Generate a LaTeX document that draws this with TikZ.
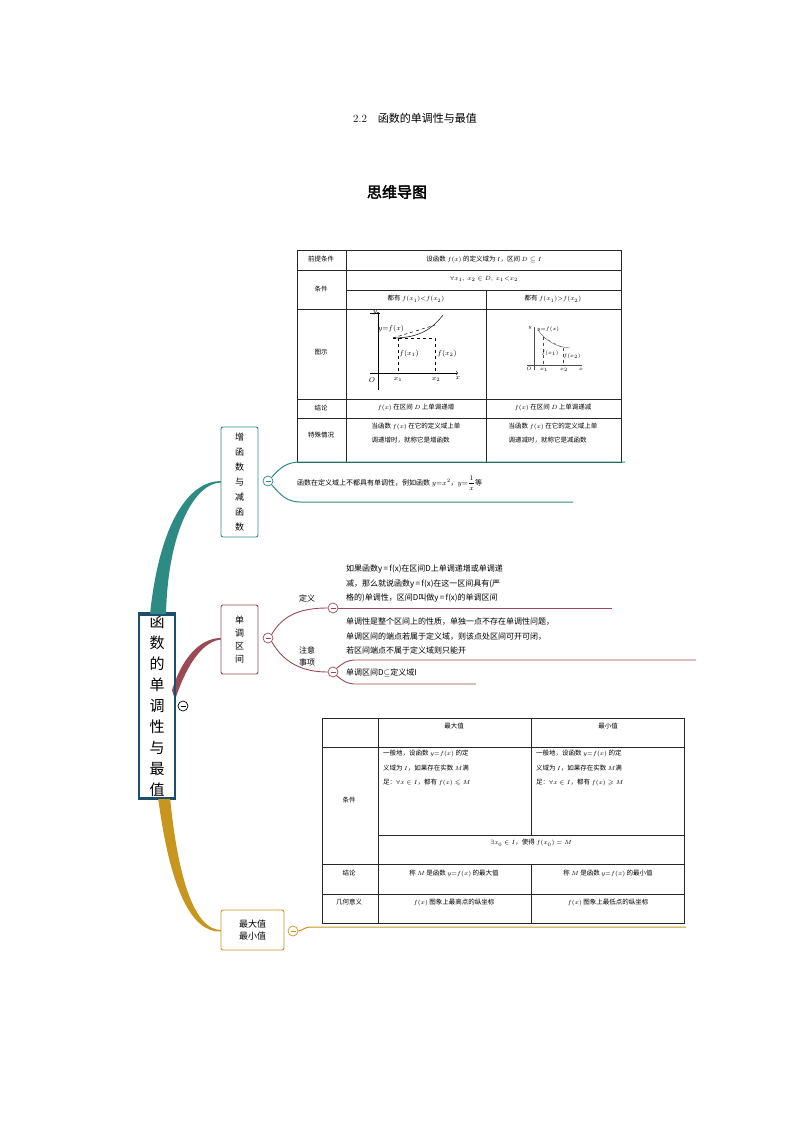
\documentclass[tikz,border=0pt]{standalone}
\usepackage{amssymb}
\usepackage{fontspec}
\newfontfamily\cjk{Noto Sans CJK SC}
\newfontfamily\cjkb{Noto Sans CJK SC}[FakeBold=2.5]
\usetikzlibrary{calc}
\definecolor{teal1}{HTML}{2E8B84}
\definecolor{red1}{HTML}{9B4A55}
\definecolor{gold1}{HTML}{C8961E}
\definecolor{navy}{HTML}{1F4E6B}
\tikzset{
 tb/.style={font=\cjk\fontsize{6.5}{8}\selectfont,inner sep=0pt},
 vbox/.style={draw,rounded corners=2pt,line width=0.9pt,fill=white,align=center,font=\cjk\fontsize{9}{13}\selectfont,inner sep=2pt},
 col/.style={circle,draw,line width=0.7pt,fill=white,minimum size=10pt,inner sep=0pt,path picture={\draw[line width=0.8pt] ($(path picture bounding box.center)+(-2.5pt,0)$)--++(5pt,0);}},
 txt/.style={font=\cjk\fontsize{8}{14.5}\selectfont,anchor=west,align=left,inner sep=0pt},
 grid/.style={line width=0.6pt,draw=black!85}
}
\begin{document}
\begin{tikzpicture}[x=1pt,y=-1pt]
\useasboundingbox (0,0) rectangle (794,1123);
\node (title) at (415,118) {\fontsize{11}{13}\selectfont 2.2\quad{\cjk 函数的单调性与最值}};
\node (sub) at (397,192) {\cjkb\fontsize{15}{17}\selectfont 思维导图};

% top table
\draw[grid] (297,250) rectangle (621,462);
\foreach \y in {270,309,399,418} \draw[grid] (297,\y)--(621,\y);
\draw[grid] (346,290)--(621,290);
\draw[grid] (346,250)--(346,462);
\draw[grid] (486,290)--(486,462);
\node[tb] (t1) at (321,259) {前提条件};
\node[tb] (t2) at (484,259) {设函数 $f(x)$ 的定义域为 $I$，区间 $D\subseteq I$};
\node[tb] (t3) at (321,289) {条件};
\node[tb] (t4) at (484,279) {$\forall x_1,\ x_2\in D,\ x_1{<}x_2$};
\node[tb] (t5) at (416,299) {都有 $f(x_1){<}f(x_2)$};
\node[tb] (t6) at (553,299) {都有 $f(x_1){>}f(x_2)$};
\node[tb] (t7) at (321,352) {图示};
\node[tb] (t8) at (321,408) {结论};
\node[tb] (t9) at (416,408) {$f(x)$ 在区间 $D$ 上单调递增};
\node[tb] (t10) at (553,408) {$f(x)$ 在区间 $D$ 上单调递减};
\node[tb] (t11) at (321,435) {特殊情况};
\node[tb,align=left,font=\cjk\fontsize{6.5}{14}\selectfont] (t12) at (416,433) {当函数 $f(x)$ 在它的定义域上单\\调递增时，就称它是增函数};
\node[tb,align=left,font=\cjk\fontsize{6.5}{14}\selectfont] (t13) at (553,433) {当函数 $f(x)$ 在它的定义域上单\\调递减时，就称它是减函数};
% left graph
\begin{scope}[line width=0.5pt]
\draw (370,313)--(380,313);
\draw[->] (378,390)--(378,312);
\draw[->] (370,373)--(458,373);
\draw (393,338) .. controls (415,338) and (430,332) .. (443,315);
\draw[dashed] (393,338)--(435,325);
\draw[dashed] (393,338)--(435,338)--(435,373);
\draw[dashed] (398,338)--(398,373);
\node[font=\fontsize{7}{8}\selectfont,inner sep=1pt] at (375,313) {$y$};
\node[font=\fontsize{7}{8}\selectfont,inner sep=1pt] at (391,329) {$y{=}f(x)$};
\node[font=\fontsize{7}{8}\selectfont,inner sep=1pt] at (409,354) {$f(x_1)$};
\node[font=\fontsize{7}{8}\selectfont,inner sep=1pt] at (447,354) {$f(x_2)$};
\node[font=\fontsize{7}{8}\selectfont,inner sep=1pt] at (372,380) {$O$};
\node[font=\fontsize{7}{8}\selectfont,inner sep=1pt] at (398,379) {$x_1$};
\node[font=\fontsize{7}{8}\selectfont,inner sep=1pt] at (436,379) {$x_2$};
\node[font=\fontsize{7}{8}\selectfont,inner sep=1pt] at (458,378) {$x$};
\end{scope}
% right graph
\begin{scope}[line width=0.35pt,draw=black!70]
\draw (534,370)--(534,327);
\draw (527,365)--(582,365);
\draw (538,330) .. controls (545,340) and (555,347) .. (570,348);
\draw[dashed] (543,337)--(563,348);
\draw[dashed] (543,337)--(543,365);
\draw[dashed] (563,348)--(563,365);
\node[font=\fontsize{4}{5}\selectfont,inner sep=0.5pt] at (548,329) {$y{=}f(x)$};
\node[font=\fontsize{4}{5}\selectfont,inner sep=0.5pt] at (550,353) {$f(x_1)$};
\node[font=\fontsize{4}{5}\selectfont,inner sep=0.5pt] at (572,356) {$f(x_2)$};
\node[font=\fontsize{4}{5}\selectfont,inner sep=0.5pt] at (529,369) {$O$};
\node[font=\fontsize{4}{5}\selectfont,inner sep=0.5pt] at (544,370) {$x_1$};
\node[font=\fontsize{4}{5}\selectfont,inner sep=0.5pt] at (564,370) {$x_2$};
\node[font=\fontsize{4}{5}\selectfont,inner sep=0.5pt] at (581,369) {$x$};
\node[font=\fontsize{4}{5}\selectfont,inner sep=0.5pt] at (530,328) {$y$};
\end{scope}

% bottom table
\draw[grid] (322,718) rectangle (684,923);
\foreach \y in {747,864,894} \draw[grid] (322,\y)--(684,\y);
\draw[grid] (378,835)--(684,835);
\draw[grid] (378,718)--(378,923);
\draw[grid] (531,718)--(531,835);
\draw[grid] (531,864)--(531,923);
\node[tb] (b1) at (454,726) {最大值};
\node[tb] (b2) at (608,726) {最小值};
\node[tb] (b3) at (349,800) {条件};
\node[tb,anchor=north west,align=left,font=\cjk\fontsize{6.5}{14.5}\selectfont] (b4) at (383,750) {一般地，设函数 $y{=}f(x)$ 的定\\[0pt]义域为 $I$，如果存在实数 $M$满\\足：$\forall x\in I$，都有 $f(x)\leqslant M$};
\node[tb,anchor=north west,align=left,font=\cjk\fontsize{6.5}{14.5}\selectfont] (b5) at (536,750) {一般地，设函数 $y{=}f(x)$ 的定\\[0pt]义域为 $I$，如果存在实数 $M$满\\足：$\forall x\in I$，都有 $f(x)\geqslant M$};
\node[tb] (b6) at (531,843) {$\exists x_0\in I$，使得 $f(x_0)=M$};
\node[tb] (b7) at (349,873) {结论};
\node[tb] (b8) at (454,873) {称 $M$ 是函数 $y{=}f(x)$ 的最大值};
\node[tb] (b9) at (608,873) {称 $M$ 是函数 $y{=}f(x)$ 的最小值};
\node[tb] (b10) at (349,902) {几何意义};
\node[tb] (b11) at (454,902) {$f(x)$ 图象上最高点的纵坐标};
\node[tb] (b12) at (608,902) {$f(x)$ 图象上最低点的纵坐标};

% mind map
\node[draw=navy,line width=2pt,fill=white,minimum width=36pt,minimum height=183pt,align=center,inner sep=2pt,font=\cjk\fontsize{15}{21}\selectfont] (root) at (157,706) {函\\数\\的\\单\\调\\性\\与\\最\\值};
\node[col,draw=black] (rc) at (183,706) {};

% branch curves
\fill[teal1] (150,614) .. controls (160,520) and (190,481) .. (221,481) -- (221,482.5) .. controls (195,483) and (168,530) .. (166,614) -- cycle;
\fill[red1] (172,690) .. controls (185,650) and (205,638) .. (221,638) -- (221,639.5) .. controls (205,641) and (188,660) .. (175,700) -- cycle;
\fill[gold1] (170,797) .. controls (178,880) and (195,930) .. (221,930) -- (221,931.5) .. controls (192,933) and (170,890) .. (158,797) -- cycle;
\node[draw=navy,line width=2pt,minimum width=36pt,minimum height=183pt] at (157,706) {};

\node[vbox,draw=teal1,minimum width=37pt,minimum height=110pt,font=\cjk\fontsize{9}{15}\selectfont] (b1n) at (239.5,482) {增\\函\\数\\与\\减\\函\\数};
\node[vbox,draw=red1,minimum width=37pt,minimum height=69pt] (b2n) at (239.5,639.5) {单\\调\\区\\间};
\node[vbox,draw=gold1,minimum width=63pt,minimum height=40pt,font=\cjk\fontsize{9}{12}\selectfont] (b3n) at (252.5,930) {最大值\\最小值};

% branch 1
\node[col,draw=teal1] (c1) at (268,481) {};
\coordinate (e1a) at (625,462);
\coordinate (e1b) at (573,502);
\draw[teal1,line width=1pt] (c1.north east) to[out=50,in=180] (300,462) -- (e1a);
\draw[teal1,line width=1pt] (c1.south east) to[out=-50,in=180] (300,502) -- (e1b);
\node[txt,font=\cjk\fontsize{7}{8}\selectfont] (n1) at (297,483) {函数在定义域上不都具有单调性，例如函数 $y{=}x^2$，$y{=}\displaystyle\frac{1}{x}$等};

% branch 2
\node[col,draw=red1] (c2) at (268,638) {};
\node[col,draw=red1] (c3) at (333,608) {};
\node[col,draw=red1] (c4) at (333,672) {};
\draw[red1,line width=0.9pt] (c2.north east) to[out=60,in=180] (c3.west);
\draw[red1,line width=0.9pt] (c2.south east) to[out=-60,in=180] (c4.west);
\node[font=\cjk\fontsize{8}{12}\selectfont] (d1) at (307,598) {定义};
\node[font=\cjk\fontsize{8}{12}\selectfont,align=center] (d2) at (307,656) {注意\\事项};
\coordinate (e2) at (612,608);
\coordinate (e3) at (696,660);
\coordinate (e4) at (476,684);
\draw[red1,line width=0.9pt] (c3.east) -- (e2);
\draw[red1,line width=0.9pt] (c4.north east) to[out=40,in=180] (355,660) -- (e3);
\draw[red1,line width=0.9pt] (c4.south east) to[out=-40,in=180] (355,684) -- (e4);
\node[txt] (def) at (346,584) {如果函数y\,=\,f(x)在区间D上单调递增或单调递\\减，那么就说函数y\,=\,f(x)在这一区间具有(严\\格的)单调性，区间D叫做y\,=\,f(x)的单调区间};
\node[txt] (note) at (346,636) {单调性是整个区间上的性质，单独一点不存在单调性问题，\\单调区间的端点若属于定义域，则该点处区间可开可闭，\\若区间端点不属于定义域则只能开};
\node[txt] (inc) at (346,673) {单调区间D$\subseteq$定义域I};

% branch 3
\node[col,draw=gold1] (c5) at (293,931) {};
\coordinate (e5) at (686,927);
\draw[gold1,line width=1pt] (c5.east) to[out=10,in=180] (310,927) -- (e5);
\end{tikzpicture}
\end{document}
